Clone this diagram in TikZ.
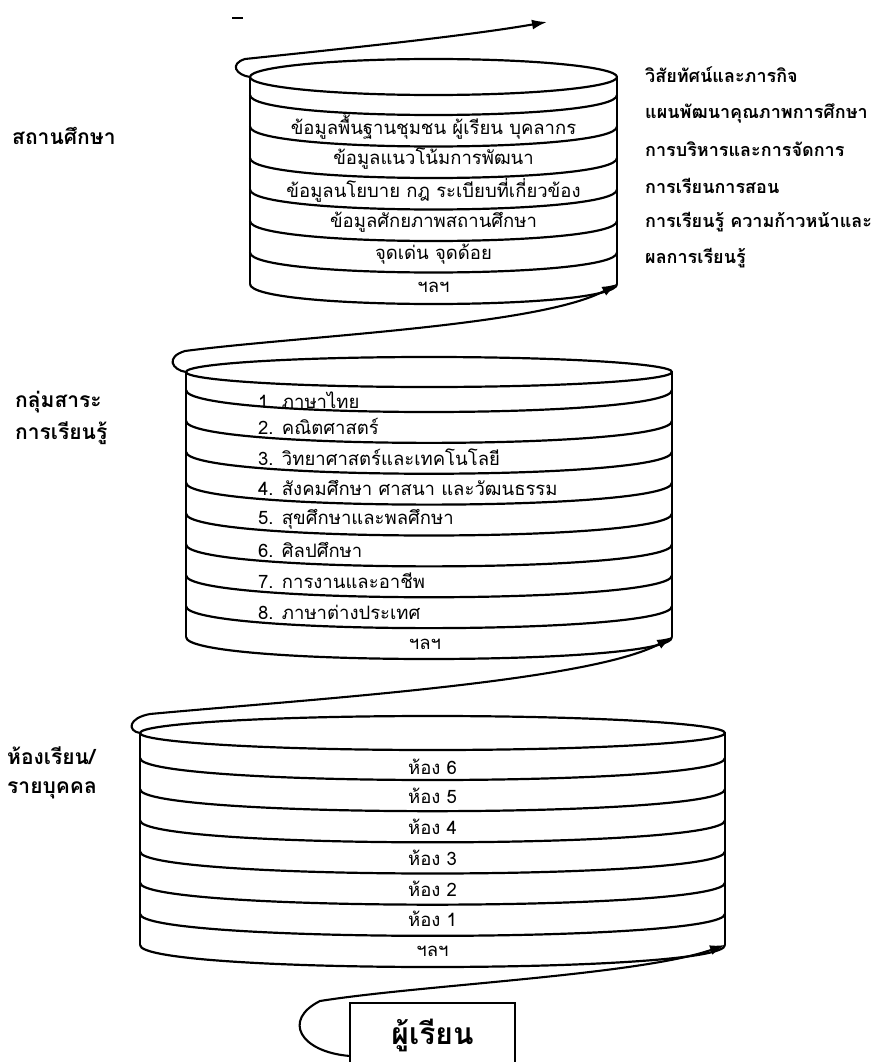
\documentclass[tikz,border=0pt]{standalone}
\usepackage{fontspec}
\setmainfont[Script=Thai]{Loma}
\usetikzlibrary{arrows.meta}
\tikzset{
  outline/.style={line width=2.2pt, line join=round},
  bandline/.style={line width=2.2pt},
  spiral/.style={line width=2.1pt, -{Latex[length=15pt,width=10pt]}},
  celltext/.style={font=\fontsize{18.5}{21}\selectfont, inner sep=0pt},
  leftlabel/.style={font=\bfseries\fontsize{21}{24}\selectfont, anchor=west, inner sep=0pt},
  rightlabel/.style={font=\bfseries\fontsize{18}{21}\selectfont, anchor=west, inner sep=0pt},
  learnerbox/.style={draw, line width=2.2pt, minimum width=165pt, minimum height=64pt, inner sep=0pt, font=\bfseries\fontsize{30}{34}\selectfont}
}
\newcommand\frontarc[4]{\draw[bandline] (#1,#3) .. controls (#1,#3+1.3333*#4) and (#2,#3+1.3333*#4) .. (#2,#3);}
\begin{document}
\begin{tikzpicture}[x=1pt,y=-1pt]
\useasboundingbox (0,0) rectangle (878,1062);
\fill[white] (0,0) rectangle (878,1062);

% stray dash at the top
\draw[line width=2.8pt] (232,18) -- (243,18);

% ---------- top cylinder ----------
\draw[outline] (433.5,77) ellipse [x radius=183.5pt, y radius=18pt];
\draw[outline] (250,77) -- (250,284);
\draw[outline] (617,77) -- (617,284);
\foreach \i in {0,...,6} {\frontarc{250}{617}{95+31.5*\i}{20}}
\coordinate (topTL) at (250,77);
\coordinate (topBR) at (617,284);
\coordinate (topTip) at (547,22);
\node[celltext] (a1) at (433.5,127) {ข้อมูลพื้นฐานชุมชน ผู้เรียน บุคลากร};
\node[celltext] (a2) at (433.5,159) {ข้อมูลแนวโน้มการพัฒนา};
\node[celltext] (a3) at (433.5,190) {ข้อมูลนโยบาย กฎ ระเบียบที่เกี่ยวข้อง};
\node[celltext] (a4) at (433.5,222) {ข้อมูลศักยภาพสถานศึกษา};
\node[celltext] (a5) at (433.5,254) {จุดเด่น จุดด้อย};
\node[celltext] (a6) at (433.5,287) {ฯลฯ};

\node[leftlabel] (lab1) at (12,136) {สถานศึกษา};
\node[rightlabel] (r1) at (645,75) {วิสัยทัศน์และภารกิจ};
\node[rightlabel] (r2) at (645,113) {แผนพัฒนาคุณภาพการศึกษา};
\node[rightlabel] (r3) at (645,149) {การบริหารและการจัดการ};
\node[rightlabel] (r4) at (645,186) {การเรียนการสอน};
\node[rightlabel] (r5) at (645,222) {การเรียนรู้ ความก้าวหน้าและ};
\node[rightlabel] (r6) at (645,258) {ผลการเรียนรู้};

% ---------- middle cylinder ----------
\draw[outline] (429,372) ellipse [x radius=243pt, y radius=15pt];
\draw[outline] (186,372) -- (186,637);
\draw[outline] (672,372) -- (672,637);
\foreach \i in {0,...,8} {\frontarc{186}{672}{390+30.875*\i}{22}}
\coordinate (midTL) at (186,372);
\coordinate (midBR) at (672,637);
\node[celltext, anchor=west] (b1) at (258,400) {1. ภาษาไทย};
\node[celltext, anchor=west] (b2) at (258,426) {2. คณิตศาสตร์};
\node[celltext, anchor=west] (b3) at (258,457) {3. วิทยาศาสตร์และเทคโนโลยี};
\node[celltext, anchor=west] (b4) at (258,488) {4. สังคมศึกษา ศาสนา และวัฒนธรรม};
\node[celltext, anchor=west] (b5) at (258,519) {5. สุขศึกษาและพลศึกษา};
\node[celltext, anchor=west] (b6) at (258,550) {6. ศิลปศึกษา};
\node[celltext, anchor=west] (b7) at (258,581) {7. การงานและอาชีพ};
\node[celltext, anchor=west] (b8) at (258,612) {8. ภาษาต่างประเทศ};
\node[celltext] (b9) at (425,644) {ฯลฯ};

\node[leftlabel] (lab2a) at (15,402) {กลุ่มสาระ};
\node[leftlabel] (lab2b) at (15,433) {การเรียนรู้};

% ---------- bottom cylinder ----------
\draw[outline] (432.5,733) ellipse [x radius=292.5pt, y radius=17pt];
\draw[outline] (140,733) -- (140,945);
\draw[outline] (725,733) -- (725,945);
\foreach \i in {0,...,6} {\frontarc{140}{725}{758+31.1667*\i}{22}}
\coordinate (botTL) at (140,733);
\coordinate (botBR) at (725,945);
\node[celltext] (c1) at (432.5,767) {ห้อง 6};
\node[celltext] (c2) at (432.5,796) {ห้อง 5};
\node[celltext] (c3) at (432.5,827) {ห้อง 4};
\node[celltext] (c4) at (432.5,858) {ห้อง 3};
\node[celltext] (c5) at (432.5,889) {ห้อง 2};
\node[celltext] (c6) at (432.5,919) {ห้อง 1};
\node[celltext] (c7) at (432.5,951) {ฯลฯ};

\node[leftlabel] (lab3a) at (7,756) {ห้องเรียน/};
\node[leftlabel] (lab3b) at (7,790) {รายบุคคล};

% ---------- learner box ----------
\node[learnerbox] (learner) at (432.5,1035) {ผู้เรียน};
\coordinate (boxL) at (350,1056);

% ---------- spiral connectors ----------
\draw[spiral] (topTL) .. controls (236,75) and (229,64) .. (245,59) .. controls (330,50) and (460,37) .. (topTip);
\draw[spiral] (midTL) .. controls (172,370) and (165,357) .. (185,351) .. controls (300,336) and (540,326) .. (topBR);
\draw[spiral] (botTL) .. controls (127,731) and (128,718) .. (150,714) .. controls (300,700) and (590,682) .. (midBR);
\draw[spiral] (boxL) .. controls (300,1052) and (282,1020) .. (320,1001) .. controls (420,985) and (640,975) .. (botBR);
\end{tikzpicture}
\end{document}
